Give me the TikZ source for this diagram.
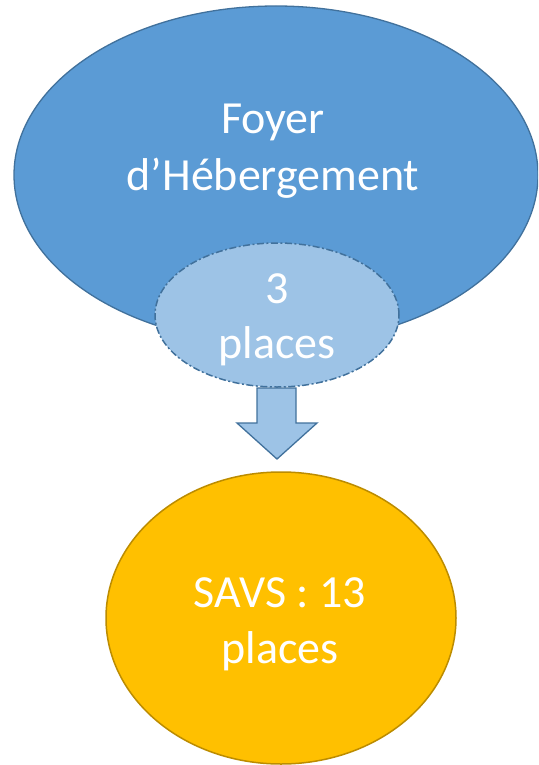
\documentclass[tikz,border=0pt]{standalone}
\usepackage{fontspec}
\setmainfont{Carlito}
\usetikzlibrary{shapes.geometric}
\definecolor{bigblue}{HTML}{5B9BD5}
\definecolor{blueline}{HTML}{41719C}
\definecolor{lightblue}{HTML}{9DC3E6}
\definecolor{gold}{HTML}{FFC000}
\definecolor{goldline}{HTML}{BC8C00}
\begin{document}
\begin{tikzpicture}[x=1pt,y=-1pt,
  blob/.style={ellipse, inner sep=0pt, outer sep=0pt},
  lbl/.style={text=white, font=\fontsize{46}{57}\selectfont, anchor=base, inner sep=0pt}]
\useasboundingbox (0,0) rectangle (538,765);
\clip (0,0) rectangle (538,765);
% big ellipse
\node[blob, draw=blueline, line width=1.3pt, fill=bigblue,
  minimum width=524pt, minimum height=338pt] (foyer) at (276,175) {};
\node[lbl] (t1) at (273,133) {Foyer};
\node[lbl] (t2) at (273,190) {d’Hébergement};
% small ellipse
\node[blob, draw=blueline, line width=1.5pt, fill=lightblue,
  dash pattern=on 7pt off 2.5pt on 2pt off 2.5pt,
  minimum width=244pt, minimum height=144pt] (trois) at (277,315) {};
\node[lbl] (t3) at (277,303) {3};
\node[lbl] (t4) at (277,358) {places};
% arrow
\coordinate (tip) at (277,459);
\draw[blueline, line width=1.3pt, fill=lightblue, line join=miter]
  (257,388) -- (296,388) -- (296,423) -- (317,423) -- (tip) -- (237,423) -- (257,423) -- cycle;
% yellow ellipse
\node[blob, draw=goldline, line width=1.5pt, fill=gold,
  minimum width=350pt, minimum height=292pt] (savs) at (281,618) {};
\node[lbl] (t5) at (280,607) {SAVS : 13};
\node[lbl] (t6) at (280,663) {places};
\end{tikzpicture}
\end{document}
